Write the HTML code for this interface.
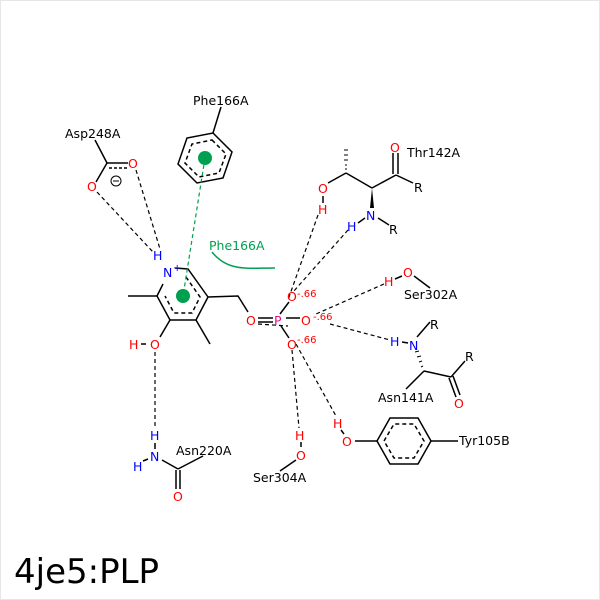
<!DOCTYPE html>
<html><head><meta charset="utf-8"><style>
html,body{margin:0;padding:0;background:#fff}
svg{display:block}
text{font-family:"DejaVu Sans","Liberation Sans",sans-serif;font-size:12.5px}
.r{fill:#f00}.b{fill:#00f}.k{fill:#000}.g{fill:#00a050}.p{fill:#e0108a}
</style></head><body>
<svg width="600" height="600" viewBox="0 0 600 600" xmlns="http://www.w3.org/2000/svg">
<rect x="0.5" y="0.5" width="599" height="599" fill="#fff" stroke="#e6e6e6"/>
<g stroke="#000" stroke-width="1.5" fill="none">
<polyline points="175,268 188,269 208,297 196,320 170,320 157,296 163,284"/>
<polyline points="186,277 200,297 192,313 174,313 165,296" stroke-dasharray="4,3"/>
<line x1="157" y1="296" x2="128" y2="296"/>
<line x1="170" y1="320" x2="160" y2="337"/>
<line x1="196" y1="320" x2="210" y2="344"/>
<polyline points="208,297 238,296 248,312"/>
<polygon points="213,133 232,152 223,178 197,183 178,164 187,138"/>
<polygon points="212,140 226,154 219,173 199,177 185,163 192,144" stroke-dasharray="4,3"/>
<line x1="213" y1="133" x2="221" y2="107"/>
<line x1="95" y1="140" x2="107" y2="163"/>
<line x1="107" y1="163" x2="128" y2="163"/>
<line x1="109" y1="168" x2="128" y2="168" stroke-dasharray="3,2"/>
<line x1="107" y1="163" x2="96" y2="182"/>
<line x1="328" y1="183" x2="346" y2="173"/>
<line x1="346" y1="173" x2="372" y2="188"/>
<line x1="372" y1="188" x2="396" y2="175"/>
<line x1="393" y1="174" x2="393" y2="153"/><line x1="398" y1="174" x2="398" y2="153"/>
<line x1="396" y1="175" x2="413" y2="183"/>
<line x1="323" y1="196" x2="323" y2="203"/>
<line x1="378" y1="218" x2="389" y2="225"/>
<line x1="358" y1="223" x2="365" y2="218"/>
<line x1="395" y1="279" x2="402" y2="276"/>
<line x1="414" y1="276" x2="430" y2="288"/>
<line x1="402" y1="342" x2="408" y2="343"/>
<line x1="417" y1="337" x2="430" y2="322"/>
<line x1="424" y1="371" x2="451" y2="377"/>
<line x1="451" y1="377" x2="465" y2="361"/>
<line x1="449" y1="378" x2="456" y2="397"/><line x1="453" y1="376" x2="460" y2="395"/>
<line x1="424" y1="371" x2="406" y2="389"/>
<line x1="341" y1="430" x2="344" y2="434"/>
<line x1="355" y1="441" x2="377" y2="441"/>
<polygon points="377,441 390,418 418,418 431,441 418,464 390,464"/>
<polygon points="384,441 394,424 414,424 424,441 414,458 394,458" stroke-dasharray="4,3"/>
<line x1="431" y1="441" x2="458" y2="441"/>
<line x1="301" y1="442" x2="301" y2="447"/>
<line x1="296" y1="460" x2="280" y2="471"/>
<line x1="155" y1="443" x2="155" y2="449"/>
<line x1="143" y1="461" x2="148" y2="459"/>
<line x1="162" y1="460" x2="178" y2="469"/>
<line x1="178" y1="469" x2="203" y2="456"/>
<line x1="176" y1="470" x2="176" y2="489"/><line x1="180" y1="470" x2="180" y2="489"/>
<line x1="258" y1="318" x2="273" y2="318"/><line x1="258" y1="322" x2="273" y2="322"/>
<line x1="286" y1="318" x2="300" y2="318"/>
<line x1="280" y1="314" x2="289" y2="302"/>
<line x1="281" y1="326" x2="289" y2="338"/>
<line x1="141" y1="344" x2="146" y2="344"/>
</g>
<polygon points="372,188 370,208 374,208" fill="#000"/>
<g stroke="#000" stroke-width="1"><line x1="344" y1="150" x2="348" y2="150"/><line x1="344" y1="155" x2="348" y2="155"/><line x1="344" y1="160" x2="348" y2="160"/><line x1="345" y1="165" x2="347" y2="165"/><line x1="345" y1="169" x2="347" y2="169"/>
<line x1="415" y1="352" x2="419" y2="351"/><line x1="417" y1="357" x2="421" y2="356"/><line x1="419" y1="362" x2="422" y2="361"/><line x1="421" y1="367" x2="423" y2="366"/></g>
<g stroke="#000" stroke-width="1.2" stroke-dasharray="4,3" fill="none">
<line x1="136" y1="170" x2="160" y2="249"/>
<line x1="97" y1="192" x2="153" y2="252"/>
<line x1="155" y1="352" x2="155" y2="428"/>
<line x1="318" y1="215" x2="288" y2="300"/>
<line x1="348" y1="230" x2="293" y2="292"/>
<line x1="384" y1="284" x2="316" y2="314"/>
<line x1="330" y1="324" x2="390" y2="340"/>
<line x1="292" y1="350" x2="299" y2="428"/>
<line x1="296" y1="344" x2="336" y2="416"/>
<line x1="258" y1="324" x2="288" y2="326"/>
</g>
<line x1="205" y1="158" x2="183" y2="296" stroke="#00a050" stroke-width="1.2" stroke-dasharray="4,3"/>
<circle cx="205" cy="158" r="7" fill="#00a050"/>
<circle cx="183" cy="296" r="7" fill="#00a050"/>
<path d="M212,252 C228,272 248,268 275,268" stroke="#00a050" stroke-width="1.5" fill="none"/>
<circle cx="116" cy="181" r="5" fill="none" stroke="#000" stroke-width="1"/><line x1="113" y1="181" x2="119" y2="181" stroke="#000"/>
<text x="193" y="105" class="k">Phe166A</text>
<text x="65" y="138" class="k">Asp248A</text>
<text x="128" y="168" class="r">O</text>
<text x="87" y="191" class="r">O</text>
<text x="153" y="260" class="b">H</text>
<text x="163" y="277" class="b">N</text><text x="173" y="271" class="b" style="font-size:10px">+</text>
<text x="209" y="250" class="g">Phe166A</text>
<text x="129" y="349" class="r">H</text>
<text x="150" y="349" class="r">O</text>
<text x="246" y="325" class="r">O</text>
<text x="274" y="325" class="p">P</text>
<text x="301" y="325" class="r">O</text>
<text x="287" y="301" class="r">O</text>
<text x="287" y="349" class="r">O</text>
<text x="297" y="297" class="r" style="font-size:10px">-.66</text>
<text x="313" y="320" class="r" style="font-size:10px">-.66</text>
<text x="297" y="343" class="r" style="font-size:10px">-.66</text>
<text x="318" y="193" class="r">O</text>
<text x="318" y="214" class="r">H</text>
<text x="390" y="152" class="r">O</text>
<text x="407" y="157" class="k">Thr142A</text>
<text x="414" y="192" class="k">R</text>
<text x="366" y="220" class="b">N</text>
<text x="347" y="231" class="b">H</text>
<text x="389" y="234" class="k">R</text>
<text x="384" y="286" class="r">H</text>
<text x="403" y="277" class="r">O</text>
<text x="404" y="299" class="k">Ser302A</text>
<text x="390" y="346" class="b">H</text>
<text x="409" y="350" class="b">N</text>
<text x="430" y="329" class="k">R</text>
<text x="465" y="361" class="k">R</text>
<text x="454" y="408" class="r">O</text>
<text x="378" y="402" class="k">Asn141A</text>
<text x="333" y="428" class="r">H</text>
<text x="342" y="446" class="r">O</text>
<text x="459" y="445" class="k">Tyr105B</text>
<text x="295" y="440" class="r">H</text>
<text x="296" y="460" class="r">O</text>
<text x="253" y="482" class="k">Ser304A</text>
<text x="150" y="440" class="b">H</text>
<text x="150" y="461" class="b">N</text>
<text x="133" y="471" class="b">H</text>
<text x="176" y="455" class="k">Asn220A</text>
<text x="173" y="501" class="r">O</text>
<text x="14" y="583" style="font-size:34px" class="k">4je5:PLP</text>
</svg>
</body></html>
